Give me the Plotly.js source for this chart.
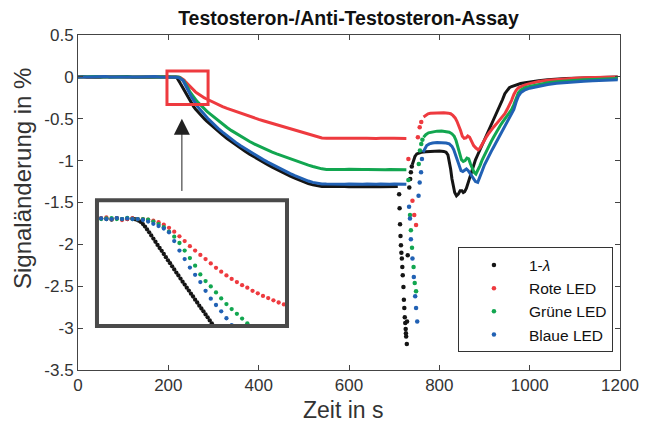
<!DOCTYPE html>
<html>
<head>
<meta charset="utf-8">
<script src="https://cdn.plot.ly/plotly-3.0.1.min.js"></script>
<style>html,body{margin:0;padding:0;background:#fff;}#chart{width:655px;height:423px;}</style>
</head>
<body>
<div id="chart"></div>
<script>
// ---------- shared time stamps (s) ----------
const tFlat = [0,10,20,30,40,50,60,70,80,90,100,110,120,130,140,150,160,170,180,190];
const tInset = [197.5,200,202.5,205,207.5,210,212.5,215,217.5,220,222.5,225,227.5,230,232.5,235,237.5,240,242.5,245,247.5,250,252.5,255,257.5,260,262.5,265,267.5,270,272.5,275,277.5,280,282.5,285,287.5,290];

// ---------- 1-lambda (black) ----------
const blackT = [197.5,200,202.5,205,207.5,210,212.5,215,216,217,218,219,220,221,222,223,224,225,226,227,228,229,230,231,232,233,234,235,236,237,238,239,240,241,242,243,244,245,246,247,248,249,250,251,252,253,
  256,260,265,270,275,280,285,290,295,300,310,320,330,340,350,360,370,380,390,400,410,420,430,440,450,460,470,480,490,500,510,520,530,540,550,560,570,580,590,600,610,620,630,640,650,660,670,680,690,700,708,
  725,
  740,743,746,750,755,760,770,780,790,800,810,815,819,822,825,828,831,834,838,842,846,850,853,856,860,864,868,872,876,880,885,890,895,900,905,910,915,920,925,930,935,940,945,950,955,960,970,980,990,1000,1020,1040,1060,1080,1100,1120,1140,1160,1180,1195];
const blackFlatV = [0,0.004,-0.003,0.002,0,-0.004,0.003,0,0.002,-0.002,0,0.004,-0.003,0,0.002,0,-0.003,0.002,0,0];
const blackV = [0,0.002,0,-0.002,0.003,0,0,0.002,0,-0.002,-0.005,-0.009,-0.016,-0.024,-0.033,-0.042,-0.052,-0.062,-0.072,-0.082,-0.092,-0.101,-0.111,-0.121,-0.131,-0.14,-0.15,-0.16,-0.17,-0.179,-0.189,-0.199,-0.208,-0.218,-0.227,-0.237,-0.246,-0.256,-0.265,-0.275,-0.284,-0.293,-0.303,-0.312,-0.322,-0.331,
  -0.355,-0.383,-0.415,-0.446,-0.475,-0.502,-0.528,-0.553,-0.577,-0.6,-0.648,-0.692,-0.735,-0.775,-0.815,-0.853,-0.888,-0.923,-0.957,-0.988,-1.018,-1.048,-1.077,-1.106,-1.134,-1.16,-1.185,-1.21,-1.233,-1.254,-1.274,-1.29,-1.302,-1.308,-1.31,-1.308,-1.311,-1.308,-1.31,-1.312,-1.31,-1.308,-1.311,-1.312,-1.31,-1.308,-1.311,-1.312,-1.31,-1.308,-1.308,
  null,
  -1.05,-0.99,-0.95,-0.92,-0.905,-0.9,-0.893,-0.888,-0.885,-0.885,-0.89,-0.9,-0.93,-1.0,-1.1,-1.22,-1.32,-1.38,-1.42,-1.4,-1.36,-1.36,-1.38,-1.37,-1.33,-1.26,-1.19,-1.12,-1.05,-0.99,-0.93,-0.87,-0.81,-0.75,-0.69,-0.63,-0.57,-0.51,-0.46,-0.41,-0.35,-0.27,-0.2,-0.16,-0.13,-0.115,-0.095,-0.08,-0.07,-0.06,-0.045,-0.035,-0.025,-0.02,-0.015,-0.01,-0.008,-0.005,-0.002,0];
const blackDipT = [711,712,713,714,715,716,717,718,719,720.5,721.5,722.5,723.5,724.5,725.5,726,726.5,728,728.5,730,733.5,735.5,737,739];
const blackDipV = [-1.40,-1.57,-1.76,-1.90,-2.01,-2.10,-2.17,-2.27,-2.37,-2.51,-2.66,-2.76,-2.87,-2.94,-3.01,-3.06,-3.10,-3.19,-2.92,-2.13,-1.32,-1.22,-1.14,-1.07];

// ---------- Rote LED ----------
const redFlatV = [0,-0.003,0.002,0,0.004,0,-0.002,0.003,0,0,0.002,-0.003,0,0.003,0,-0.002,0,0.003,0,0];
const redInsetV = [0,0.002,0.005,0,0.002,-0.003,0,0.002,0,0,-0.002,-0.005,-0.01,-0.018,-0.028,-0.04,-0.055,-0.07,-0.086,-0.1,-0.114,-0.127,-0.141,-0.155,-0.167,-0.179,-0.19,-0.2,-0.21,-0.218,-0.228,-0.236,-0.244,-0.251,-0.258,-0.265,-0.271,-0.278];
const redTailT = [300,310,320,330,340,350,360,370,380,390,400,410,420,430,440,450,460,470,480,490,500,510,520,530,540,550,560,570,580,590,600,610,620,630,640,650,660,670,680,690,700,710,720,727,
  740,
  765,770,775,780,790,800,810,820,825,830,835,839,843,847,851,855,859,863,867,871,876,881,886,890,895,900,905,910,915,920,925,930,935,940,945,950,955,960,965,970,975,980,990,1000,1020,1040,1060,1080,1100,1120,1140,1160,1180,1195];
const redTailV = [-0.303,-0.33,-0.355,-0.376,-0.396,-0.416,-0.435,-0.454,-0.472,-0.49,-0.507,-0.524,-0.54,-0.556,-0.572,-0.588,-0.604,-0.62,-0.637,-0.654,-0.672,-0.69,-0.707,-0.722,-0.73,-0.733,-0.735,-0.733,-0.736,-0.734,-0.732,-0.735,-0.737,-0.734,-0.733,-0.736,-0.735,-0.733,-0.736,-0.734,-0.733,-0.735,-0.735,-0.735,
  null,
  -0.48,-0.455,-0.442,-0.435,-0.43,-0.428,-0.428,-0.433,-0.44,-0.46,-0.49,-0.53,-0.58,-0.64,-0.71,-0.735,-0.73,-0.705,-0.72,-0.77,-0.82,-0.85,-0.87,-0.85,-0.8,-0.75,-0.71,-0.67,-0.63,-0.6,-0.57,-0.54,-0.51,-0.48,-0.44,-0.39,-0.34,-0.28,-0.21,-0.16,-0.13,-0.115,-0.095,-0.08,-0.055,-0.04,-0.03,-0.02,-0.015,-0.01,-0.006,-0.004,-0.002,0];
const redDipT = [731.5,740.5,744.5,748.5,752.5,756.5,760];
const redDipV = [-0.98,-1.48,-1.65,-1.77,-0.72,-0.60,-0.54];

// ---------- Grüne LED ----------
const greenFlatV = [0,0.002,-0.003,0,0.003,-0.002,0,0.002,0,-0.003,0,0.002,0,-0.002,0.003,0,0,-0.002,0.002,0];
const greenInsetV = [0,0,0.002,0.003,0,0,0.004,0,0,0,-0.002,-0.008,-0.016,-0.026,-0.04,-0.056,-0.076,-0.1,-0.124,-0.148,-0.176,-0.197,-0.214,-0.233,-0.252,-0.27,-0.286,-0.301,-0.316,-0.331,-0.345,-0.359,-0.372,-0.385,-0.397,-0.409,-0.421,-0.432];
const greenTailT = [300,310,320,330,340,350,360,370,380,390,400,410,420,430,440,450,460,470,480,490,500,510,520,530,540,550,560,570,580,590,600,610,620,630,640,650,660,670,680,690,700,710,720,727,
  745,
  765,770,776,785,795,805,815,822,828,833,837,841,845,849,853,857,861,865,869,873,877,881,885,890,895,900,905,910,915,920,925,930,935,940,945,950,955,960,965,970,975,980,990,1000,1020,1040,1060,1080,1100,1120,1140,1160,1180,1195];
const greenTailV = [-0.475,-0.52,-0.565,-0.605,-0.642,-0.677,-0.71,-0.742,-0.772,-0.8,-0.827,-0.852,-0.876,-0.899,-0.92,-0.94,-0.96,-0.98,-1.0,-1.018,-1.036,-1.054,-1.07,-1.086,-1.098,-1.105,-1.107,-1.105,-1.108,-1.106,-1.104,-1.107,-1.109,-1.106,-1.105,-1.108,-1.107,-1.105,-1.108,-1.106,-1.105,-1.107,-1.107,-1.108,
  null,
  -0.72,-0.69,-0.668,-0.655,-0.648,-0.647,-0.65,-0.66,-0.68,-0.71,-0.76,-0.84,-0.92,-0.99,-1.01,-1.0,-0.97,-0.98,-1.04,-1.1,-1.14,-1.16,-1.12,-1.06,-0.99,-0.93,-0.87,-0.82,-0.77,-0.72,-0.67,-0.62,-0.58,-0.54,-0.5,-0.47,-0.43,-0.39,-0.33,-0.25,-0.19,-0.16,-0.13,-0.115,-0.09,-0.07,-0.057,-0.047,-0.04,-0.035,-0.03,-0.025,-0.02,-0.018];
const greenDipT = [731.5,735,737,739.5,743,745.5,748.5,754.5,757,760,762.5];
const greenDipV = [-1.23,-1.65,-1.83,-2.04,-2.27,-2.46,-2.56,-1.04,-0.88,-0.80,-0.75];

// ---------- Blaue LED ----------
const blueFlatV = [0,0.003,0,-0.002,0.002,0,0.004,0,-0.003,0.002,0,0,0.003,-0.002,0,0.002,0,0.003,-0.002,0];
const blueInsetV = [0,0.002,0,0,0.003,0,0.002,0,0,-0.003,-0.008,-0.015,-0.022,-0.03,-0.042,-0.07,-0.1,-0.127,-0.154,-0.177,-0.2,-0.228,-0.253,-0.273,-0.293,-0.315,-0.337,-0.356,-0.373,-0.39,-0.407,-0.423,-0.439,-0.454,-0.469,-0.483,-0.497,-0.51];
const blueTailT = [300,310,320,330,340,350,360,370,380,390,400,410,420,430,440,450,460,470,480,490,500,510,520,530,540,550,560,570,580,590,600,610,620,630,640,650,660,670,680,690,700,710,720,727,
  745,
  764,768,772,778,785,795,805,815,822,828,832,836,840,844,848,852,856,860,864,868,872,876,880,885,890,895,900,905,910,915,920,925,930,935,940,945,950,955,960,965,970,975,980,990,1000,1020,1040,1060,1080,1100,1120,1140,1160,1180,1195];
const blueTailV = [-0.565,-0.615,-0.66,-0.705,-0.745,-0.785,-0.823,-0.858,-0.893,-0.927,-0.958,-0.988,-1.018,-1.047,-1.076,-1.104,-1.13,-1.155,-1.18,-1.203,-1.224,-1.244,-1.26,-1.272,-1.278,-1.28,-1.282,-1.28,-1.283,-1.281,-1.28,-1.283,-1.284,-1.281,-1.28,-1.283,-1.282,-1.28,-1.283,-1.281,-1.28,-1.283,-1.282,-1.283,
  null,
  -0.9,-0.85,-0.82,-0.8,-0.79,-0.785,-0.785,-0.79,-0.8,-0.83,-0.87,-0.93,-1.0,-1.07,-1.12,-1.13,-1.11,-1.1,-1.12,-1.15,-1.18,-1.22,-1.25,-1.26,-1.2,-1.12,-1.05,-0.99,-0.94,-0.89,-0.84,-0.79,-0.73,-0.68,-0.63,-0.58,-0.54,-0.49,-0.44,-0.39,-0.3,-0.23,-0.19,-0.155,-0.135,-0.11,-0.09,-0.077,-0.067,-0.06,-0.052,-0.047,-0.042,-0.038,-0.035];
const blueDipT = [733,735,737,740.5,743.5,746.5,748.5,751,754,756.5,759.5,761.5];
const blueDipV = [-1.55,-1.69,-1.94,-2.17,-2.39,-2.62,-2.76,-2.92,-1.42,-1.26,-1.14,-0.98];

// ---------- labels ----------
const seriesNames = ['1-<i>λ</i>','Rote LED','Grüne LED','Blaue LED'];
const xTickVals = [0,200,400,600,800,1000,1200];
const xTickText = ['0','200','400','600','800','1000','1200'];
const yTickVals = [0.5,0,-0.5,-1,-1.5,-2,-2.5,-3,-3.5];
const yTickText = ['0.5','0','-0.5','-1','-1.5','-2','-2.5','-3','-3.5'];
const titleText = 'Testosteron-/Anti-Testosteron-Assay';
const xTitle = 'Zeit in s';
const yTitle = 'Signaländerung in %';

// ---------- assemble ----------
const colors = ['#151515','#EE3A3F','#12A650','#2161B4'];
const series = [
  {t: tFlat.concat(blackT), v: blackFlatV.concat(blackV), dt: blackDipT, dv: blackDipV},
  {t: tFlat.concat(tInset, redTailT), v: redFlatV.concat(redInsetV, redTailV), dt: redDipT, dv: redDipV},
  {t: tFlat.concat(tInset, greenTailT), v: greenFlatV.concat(greenInsetV, greenTailV), dt: greenDipT, dv: greenDipV},
  {t: tFlat.concat(tInset, blueTailT), v: blueFlatV.concat(blueInsetV, blueTailV), dt: blueDipT, dv: blueDipV}
];

const traces = [];
series.forEach((s, i) => {
  traces.push({x: s.t, y: s.v, type: 'scatter', mode: 'lines', connectgaps: false,
    line: {color: colors[i], width: 3}, showlegend: false, hoverinfo: 'skip'});
});
series.forEach((s, i) => {
  traces.push({x: s.dt, y: s.dv, type: 'scatter', mode: 'markers', name: seriesNames[i],
    marker: {color: colors[i], size: 4.5}});
});
// inset: same data on zoomed axes
series.forEach((s, i) => {
  traces.push({x: s.t, y: s.v, xaxis: 'x2', yaxis: 'y2', type: 'scatter', mode: 'markers',
    marker: {color: colors[i], size: 4.3}, showlegend: false, hoverinfo: 'skip'});
});

const FONT = 'Liberation Sans, Arial, Helvetica, sans-serif';
const layout = {
  width: 655, height: 423,
  margin: {l: 78, r: 35, t: 35, b: 53},
  paper_bgcolor: '#fff', plot_bgcolor: '#fff',
  font: {family: FONT, color: '#333', size: 17},
  title: {text: '<b>' + titleText + '</b>', font: {family: FONT, size: 19.5, color: '#111'},
    x: 0.532, xanchor: 'center', y: 0.958, yanchor: 'middle'},
  showlegend: true,
  legend: {x: 0.701, y: 0.209, xanchor: 'left', yanchor: 'middle', bgcolor: '#fff', tracegroupgap: 0,
    bordercolor: '#333', borderwidth: 1, font: {family: FONT, size: 15.5, color: '#111'}, itemwidth: 60},
  xaxis: {range: [0, 1200], tickvals: xTickVals, ticktext: xTickText, ticks: 'inside', ticklen: 5,
    tickcolor: '#444', showline: true, linecolor: '#444', linewidth: 1, mirror: 'ticks',
    showgrid: false, zeroline: false, tickfont: {size: 17, color: '#333'}},
  yaxis: {range: [-3.5, 0.5], tickvals: yTickVals, ticktext: yTickText, ticks: 'inside', ticklen: 5,
    tickcolor: '#444', showline: true, linecolor: '#444', linewidth: 1, mirror: 'ticks',
    showgrid: false, zeroline: false, tickfont: {size: 17, color: '#333'}},
  xaxis2: {domain: [0.035, 0.3856], anchor: 'y2', range: [198, 289], showticklabels: false,
    ticks: '', showline: false, showgrid: false, zeroline: false},
  yaxis2: {domain: [0.131, 0.507], anchor: 'x2', range: [-0.34, 0.06], showticklabels: false,
    ticks: '', showline: false, showgrid: false, zeroline: false},
  shapes: [
    {type: 'rect', xref: 'x', yref: 'y', x0: 197, x1: 288, y0: 0.07, y1: -0.33,
      line: {color: '#EE3A3F', width: 3}},
    {type: 'rect', xref: 'x2 domain', yref: 'y2 domain', x0: 0, x1: 1, y0: 0, y1: 1,
      line: {color: '#4a4a4a', width: 4}}
  ],
  annotations: [
    {x: 230, y: -0.5, ax: 230, ay: -1.38, xref: 'x', yref: 'y', axref: 'x', ayref: 'y',
      text: '', showarrow: true, arrowhead: 2, arrowsize: 3.2, arrowwidth: 1, arrowcolor: '#222'},
    {text: xTitle, xref: 'paper', yref: 'paper', x: 0.49, y: -0.119, xanchor: 'center', yanchor: 'middle',
      showarrow: false, font: {size: 23, color: '#333'}},
    {text: yTitle, xref: 'paper', yref: 'paper', x: -0.1033, y: 0.573, xanchor: 'center', yanchor: 'middle',
      textangle: -90, showarrow: false, font: {size: 24, color: '#333'}}
  ]
};

Plotly.newPlot('chart', traces, layout, {displayModeBar: false, staticPlot: true});
</script>
</body>
</html>
